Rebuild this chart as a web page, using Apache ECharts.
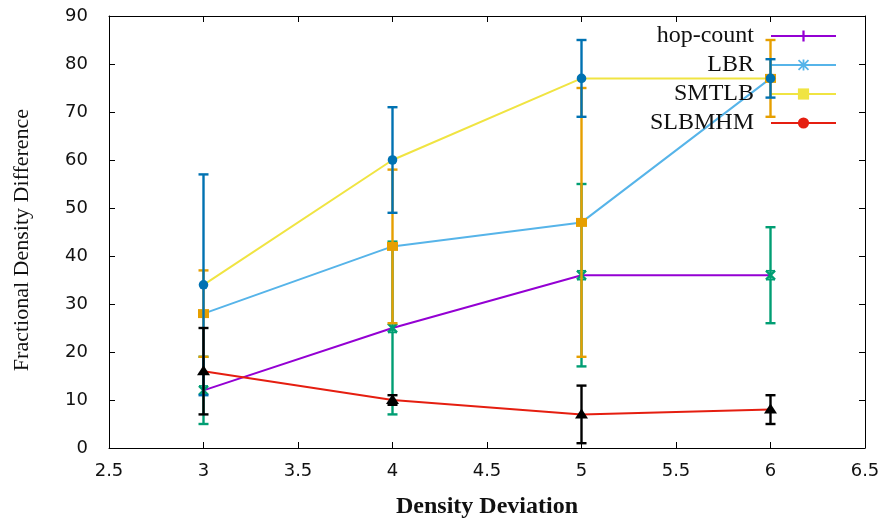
<!DOCTYPE html>
<html>
<head>
<meta charset="utf-8">
<script src="https://cdn.jsdelivr.net/npm/echarts@6/dist/echarts.min.js"></script>
<style>
  html, body { margin: 0; padding: 0; background: #fff; }
  #chart { width: 884px; height: 524px; }
</style>
</head>
<body>
<div id="chart"></div>
<script>
// density deviation values (x)
const xs = [3, 4, 5, 6]

// line series
const hopCount = [12, 25, 36, 36]
const lbr = [28, 42, 47, 77]
const smtlb = [34, 60, 77, 77]
const slbmhm = [16, 10, 7, 8]

// error bar ranges (low / high)
const hopLow = [5, 7, 17, 26]
const hopHigh = [19, 43, 55, 46]
const lbrLow = [19, 26, 19, 69]
const lbrHigh = [37, 58, 75, 85]
const smtlbLow = [11, 49, 69, 73]
const smtlbHigh = [57, 71, 85, 81]
const slbLow = [7, 9, 1, 5]
const slbHigh = [25, 11, 13, 11]

const xTicks = [2.5, 3, 3.5, 4, 4.5, 5, 5.5, 6, 6.5]

const serif = '"Liberation Serif", "DejaVu Serif", serif'
const sans = '"DejaVu Sans", sans-serif'

const pairs = (ys) => xs.map((x, i) => [x, ys[i]])
const bars = (ys, lo, hi) => xs.map((x, i) => [x, ys[i], lo[i], hi[i]])

// marker drawn at the centre of each error bar
function marker(kind, p, color) {
  const [x, y] = p
  if (kind === 'circle') {
    return { type: 'circle', shape: { cx: x, cy: y, r: 4.8 }, style: { fill: color } }
  }
  if (kind === 'square') {
    return { type: 'rect', shape: { x: x - 5.5, y: y - 4.5, width: 11, height: 9 }, style: { fill: color } }
  }
  if (kind === 'triangle') {
    return {
      type: 'polygon',
      shape: { points: [[x - 6.5, y + 4], [x + 6.5, y + 4], [x, y - 6]] },
      style: { fill: color },
    }
  }
  // 'x'
  const s = { stroke: color, lineWidth: 2.5 }
  return {
    type: 'group',
    children: [
      { type: 'line', shape: { x1: x - 4.5, y1: y - 4.5, x2: x + 4.5, y2: y + 4.5 }, style: s },
      { type: 'line', shape: { x1: x - 4.5, y1: y + 4.5, x2: x + 4.5, y2: y - 4.5 }, style: s },
      { type: 'line', shape: { x1: x - 4.5, y1: y - 4.5, x2: x + 4.5, y2: y - 4.5 }, style: { stroke: color, lineWidth: 1.5 } },
      { type: 'line', shape: { x1: x - 4.5, y1: y + 4.5, x2: x + 4.5, y2: y + 4.5 }, style: { stroke: color, lineWidth: 1.5 } },
    ],
  }
}

function errorBars(name, data, color, kind, z) {
  return {
    type: 'custom',
    name: name,
    data: data,
    encode: { x: 0, y: [1, 2, 3] },
    z: z,
    clip: false,
    renderItem: function (params, api) {
      const p = api.coord([api.value(0), api.value(1)])
      const lo = api.coord([api.value(0), api.value(2)])
      const hi = api.coord([api.value(0), api.value(3)])
      const cap = 5
      const style = { stroke: color, lineWidth: 2.4 }
      return {
        type: 'group',
        children: [
          { type: 'line', shape: { x1: p[0], y1: hi[1], x2: p[0], y2: lo[1] }, style: style },
          { type: 'line', shape: { x1: p[0] - cap, y1: hi[1], x2: p[0] + cap, y2: hi[1] }, style: style },
          { type: 'line', shape: { x1: p[0] - cap, y1: lo[1], x2: p[0] + cap, y2: lo[1] }, style: style },
          marker(kind, p, color),
        ],
      }
    },
  }
}

function lineSeries(name, ys, color, symbol) {
  return {
    type: 'line',
    name: name,
    data: pairs(ys),
    color: color,
    symbol: symbol,
    showSymbol: false, // points are covered by the error bar markers
    z: 2,
    lineStyle: { width: 2, color: color },
    itemStyle: { color: color },
  }
}

const plusPath = 'path://M4,0H6V10H4ZM0,4H10V6H0Z'
const starPath = 'path://M4.2,0H5.8V10H4.2ZM0,4.2H10V5.8H0ZM1.1,0L10,8.9L8.9,10L0,1.1ZM8.9,0L10,1.1L1.1,10L0,8.9Z'

const axisLine = { show: true, onZero: false, lineStyle: { color: '#000', width: 1 } }
const axisTick = { show: true, inside: true, length: 6, lineStyle: { color: '#000' } }

const option = {
  animation: false,
  backgroundColor: '#fff',
  grid: { left: 109, right: 19, top: 16, bottom: 76 },
  legend: {
    orient: 'vertical',
    right: 47,
    top: 24,
    padding: 0,
    align: 'right',
    itemWidth: 65,
    itemHeight: 14,
    itemGap: 5,
    data: ['hop-count', 'LBR', 'SMTLB', 'SLBMHM'],
    textStyle: { fontFamily: serif, fontSize: 24, color: '#111', lineHeight: 18, padding: [0, 12, 0, 0] },
  },
  xAxis: [
    {
      type: 'value',
      min: 2.5,
      max: 6.5,
      interval: 0.5,
      splitLine: { show: false },
      axisLine: axisLine,
      axisTick: axisTick,
      axisLabel: {
        margin: 14,
        fontFamily: sans,
        fontSize: 18,
        color: '#111',
        formatter: (v) => (xTicks.includes(v) ? String(v) : ''),
      },
      name: 'Density Deviation',
      nameLocation: 'middle',
      nameGap: 47,
      nameTextStyle: { fontFamily: serif, fontSize: 24, fontWeight: 'bold', color: '#111' },
    },
    {
      type: 'value',
      position: 'top',
      min: 2.5,
      max: 6.5,
      interval: 0.5,
      splitLine: { show: false },
      axisLine: axisLine,
      axisTick: axisTick,
      axisLabel: { show: false },
    },
  ],
  yAxis: [
    {
      type: 'value',
      min: 0,
      max: 90,
      interval: 10,
      splitLine: { show: false },
      axisLine: axisLine,
      axisTick: axisTick,
      axisLabel: { margin: 21, fontFamily: sans, fontSize: 18, color: '#111' },
      name: 'Fractional Density Difference',
      nameLocation: 'middle',
      nameGap: 76,
      nameTextStyle: { fontFamily: serif, fontSize: 22, color: '#111', padding: [0, 16, 0, 0] },
    },
    {
      type: 'value',
      position: 'right',
      min: 0,
      max: 90,
      interval: 10,
      splitLine: { show: false },
      axisLine: axisLine,
      axisTick: axisTick,
      axisLabel: { show: false },
    },
  ],
  series: [
    lineSeries('hop-count', hopCount, '#9400d3', plusPath),
    lineSeries('LBR', lbr, '#56b4e9', starPath),
    lineSeries('SMTLB', smtlb, '#f0e442', 'rect'),
    lineSeries('SLBMHM', slbmhm, '#e51e10', 'circle'),
    errorBars('hop-count err', bars(hopCount, hopLow, hopHigh), '#009e73', 'x', 10),
    errorBars('LBR err', bars(lbr, lbrLow, lbrHigh), '#e69f00', 'square', 11),
    errorBars('SMTLB err', bars(smtlb, smtlbLow, smtlbHigh), '#0072b2', 'circle', 12),
    errorBars('SLBMHM err', bars(slbmhm, slbLow, slbHigh), '#000000', 'triangle', 13),
  ],
}

const chart = echarts.init(document.getElementById('chart'))
chart.setOption(option)
</script>
</body>
</html>
